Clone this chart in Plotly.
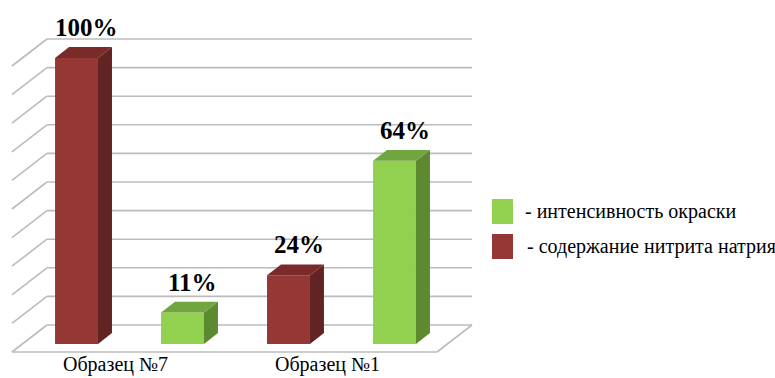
import plotly.graph_objects as go

# ---- data -------------------------------------------------------------
categories = ["Образец №7", "Образец №1"]
nitrite_label = "- содержание нитрита натрия"
intensity_label = "- интенсивность окраски"
nitrite = [100, 24]          # %, red bars
intensity = [11, 64]         # %, green bars
grid_values = list(range(0, 101, 10))

RED = dict(front="#953735", side="#612422", top="#7a2b29")
GREEN = dict(front="#92d050", side="#5d8a31", top="#71a53f")
SERIF = "serif"

# ---- oblique 3-D projection helpers ------------------------------------
W, H = 775, 378
PX_PER_SLOT, PX_PER_PCT = 106.0, 2.86
X_ORIGIN_PX, Y_ORIGIN_PX = 66.0, 352.0
DX, DY = 35 / PX_PER_SLOT, 27 / PX_PER_PCT   # full-depth shift
D0, D1 = 0.30, 0.70                          # depth span of the bars
BW = 0.405                                   # bar width (slot units)
FLOOR_L, FLOOR_R = -0.51, 3.50
Y_MIN = -(H - Y_ORIGIN_PX) / PX_PER_PCT
Y_MAX = Y_ORIGIN_PX / PX_PER_PCT


def proj(x, v, d):
    return x + d * DX, v + d * DY


def poly(points):
    xs, ys = zip(*[proj(*p) for p in points])
    return list(xs) + [xs[0]], list(ys) + [ys[0]]


fig = go.Figure()

# back wall gridlines, side wall diagonals and floor edges (below the bars)
grid_line = dict(color="#bcbcbc", width=1.6)


def segment(p, q):
    x0, y0 = proj(*p)
    x1, y1 = proj(*q)
    fig.add_shape(type="line", xref="x", yref="y", x0=x0, y0=y0, x1=x1, y1=y1,
                  line=grid_line, layer="below")


for v in grid_values:
    segment((FLOOR_L, v, 0), (FLOOR_L, v, 1))
    segment((FLOOR_L, v, 1), (FLOOR_R, v, 1))
segment((FLOOR_L, 0, 0), (FLOOR_R, 0, 0))
segment((FLOOR_R, 0, 0), (FLOOR_R, 0, 1))

# bars: red then green inside each category
bars = []
for c in range(len(categories)):
    bars.append((2 * c, nitrite[c], RED))
    bars.append((2 * c + 1, intensity[c], GREEN))

for slot, value, col in bars:
    fx, _ = proj(slot, 0, D0)
    fig.add_trace(go.Bar(x=[fx], y=[value], base=D0 * DY, width=BW,
                         marker=dict(color=col["front"], line_width=0),
                         hoverinfo="skip", showlegend=False))
    r = slot + BW / 2
    l = slot - BW / 2
    sx, sy = poly([(r, 0, D0), (r, 0, D1), (r, value, D1), (r, value, D0)])
    fig.add_trace(go.Scatter(x=sx, y=sy, mode="lines", fill="toself",
                             fillcolor=col["side"], line=dict(width=0, color=col["side"]),
                             hoverinfo="skip", showlegend=False))
    tx, ty = poly([(l, value, D0), (r, value, D0), (r, value, D1), (l, value, D1)])
    fig.add_trace(go.Scatter(x=tx, y=ty, mode="lines", fill="toself",
                             fillcolor=col["top"], line=dict(width=0, color=col["top"]),
                             hoverinfo="skip", showlegend=False))
    ax, _ = proj(slot, value, (D0 + D1) / 2)
    _, ay = proj(slot, value, D1)
    fig.add_annotation(x=ax + 0.03, y=ay, text=f"<b>{value}%</b>", showarrow=False,
                       xanchor="center", yanchor="bottom", yshift=4,
                       font=dict(family=SERIF, size=25, color="black"))

# category labels under the floor
for c, name in enumerate(categories):
    fig.add_annotation(x=2 * c + 0.5, y=Y_MIN, text=name, showarrow=False,
                       xanchor="center", yanchor="bottom", xshift=-4,
                       font=dict(family=SERIF, size=20, color="black"))


# legend
def paper_x(px):
    return px / W


def paper_y(py):
    return 1 - py / H


legend_items = [(GREEN["front"], intensity_label, 199, 224, 523),
                (RED["front"], nitrite_label, 234, 259, 525)]
for color, text, top, bottom, text_x in legend_items:
    fig.add_shape(type="rect", xref="paper", yref="paper",
                  x0=paper_x(492), x1=paper_x(513),
                  y0=paper_y(bottom), y1=paper_y(top),
                  fillcolor=color, line=dict(width=0))
    fig.add_annotation(xref="paper", yref="paper", x=paper_x(text_x),
                       y=paper_y((top + bottom) / 2), text=text, showarrow=False,
                       xanchor="left", yanchor="middle",
                       font=dict(family=SERIF, size=20, color="black"))

fig.update_layout(
    width=W, height=H,
    margin=dict(l=0, r=0, t=0, b=0),
    paper_bgcolor="white", plot_bgcolor="white",
    barmode="overlay",
    showlegend=False,
    font=dict(family=SERIF, color="black"),
    xaxis=dict(range=[-X_ORIGIN_PX / PX_PER_SLOT, (W - X_ORIGIN_PX) / PX_PER_SLOT],
               visible=False, fixedrange=True),
    yaxis=dict(range=[Y_MIN, Y_MAX], visible=False, fixedrange=True),
)

fig.write_html("out.html")
